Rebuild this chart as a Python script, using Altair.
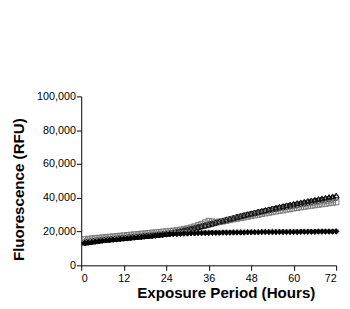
import altair as alt
import pandas as pd

hours = list(range(1, 73))

series_names = ["10μM", "1μM", "0.1μM", "0.01μM", "Vehicle"]

v_10uM = [13.6,13.9,14.2,14.5,14.7,15.0,15.2,15.4,15.6,15.8,16.0,16.2,
          16.4,16.6,16.8,17.0,17.2,17.4,17.6,17.8,18.0,18.2,18.4,18.7,
          19.0,19.3,19.7,20.1,20.5,21.0,21.5,22.0,22.5,23.0,23.5,24.0,
          24.6,25.1,25.7,26.2,26.8,27.3,27.8,28.4,28.9,29.4,29.9,30.4,
          30.8,31.3,31.7,32.2,32.6,33.1,33.5,34.0,34.4,34.8,35.2,35.6,
          36.0,36.4,36.8,37.2,37.6,38.0,38.3,38.7,39.0,39.4,39.7,40.1]

v_1uM = [15.3,15.6,15.8,16.0,16.2,16.4,16.6,16.8,17.0,17.2,17.4,17.6,
         17.8,18.0,18.2,18.4,18.6,18.8,19.0,19.2,19.4,19.6,19.8,20.0,
         20.2,20.4,20.7,21.0,21.4,21.8,22.3,22.9,23.6,24.4,25.3,26.2,
         25.8,25.6,25.8,26.1,26.5,26.9,27.3,27.7,28.1,28.5,28.9,29.3,
         29.7,30.1,30.5,30.9,31.3,31.6,32.0,32.4,32.7,33.1,33.4,33.8,
         34.1,34.5,34.8,35.1,35.4,35.7,36.0,36.3,36.6,36.9,37.2,37.5]

v_01uM = [13.4,13.7,14.0,14.3,14.6,14.9,15.1,15.3,15.5,15.7,15.9,16.1,
          16.3,16.5,16.7,16.9,17.1,17.3,17.5,17.7,17.9,18.1,18.4,18.7,
          19.0,19.4,19.8,20.2,20.7,21.2,21.7,22.2,22.7,23.2,23.7,24.2,
          24.8,25.4,26.0,26.5,27.1,27.6,28.1,28.7,29.2,29.7,30.2,30.7,
          31.2,31.7,32.2,32.7,33.2,33.7,34.2,34.7,35.1,35.6,36.0,36.5,
          36.9,37.3,37.7,38.1,38.5,38.9,39.3,39.7,40.1,40.5,40.9,41.4]

v_001uM = [13.2,13.5,13.8,14.1,14.4,14.7,14.9,15.1,15.3,15.5,15.7,15.9,
           16.1,16.3,16.5,16.7,16.9,17.1,17.3,17.5,17.7,17.9,18.1,18.3,
           18.4,18.5,18.6,18.7,18.8,18.9,19.0,19.0,19.1,19.1,19.2,19.2,
           19.3,19.3,19.3,19.4,19.4,19.4,19.5,19.5,19.5,19.5,19.6,19.6,
           19.6,19.6,19.7,19.7,19.7,19.7,19.7,19.8,19.8,19.8,19.8,19.8,
           19.8,19.9,19.9,19.9,19.9,19.9,20.0,20.0,20.0,20.0,20.0,20.1]

v_vehicle = [15.6,15.8,16.0,16.2,16.4,16.6,16.8,17.0,17.2,17.4,17.6,17.8,
             18.0,18.2,18.4,18.5,18.6,18.7,18.8,18.9,19.0,19.1,19.2,19.3,
             19.3,19.4,19.4,19.4,19.5,19.5,19.5,19.5,19.6,19.6,19.6,19.6,
             19.6,19.6,19.7,19.7,19.7,19.7,19.7,19.7,19.8,19.8,19.8,19.8,
             19.8,19.8,19.8,19.9,19.9,19.9,19.9,19.9,19.9,19.9,20.0,20.0,
             20.0,20.0,20.0,20.0,20.0,20.1,20.1,20.1,20.1,20.1,20.2,20.2]

x_ticks = [0, 12, 24, 36, 48, 60, 72]
y_ticks = [0, 20000, 40000, 60000, 80000, 100000]

all_vals = [v_10uM, v_1uM, v_01uM, v_001uM, v_vehicle]
rows = []
for name, vals in zip(series_names, all_vals):
    for h, v in zip(hours, vals):
        rows.append({"hour": h, "value": v * 1000, "series": name})
df = pd.DataFrame(rows)

shapes = ["circle", "square", "triangle-up", "diamond", "M-0.8,-0.8L0.8,0.8M-0.8,0.8L0.8,-0.8"]
strokes = ["#000000", "#777777", "#111111", "#000000", "#888888"]

title_font = "Liberation Sans, Arial, sans-serif"
label_font = "Liberation Sans, Arial, sans-serif"

x_enc = alt.X("hour:Q", scale=alt.Scale(domain=[0, 72], nice=False),
              axis=alt.Axis(values=x_ticks, title="Exposure Period (Hours)",
                            grid=False, tickSize=5, labelPadding=3,
                            titlePadding=2, titleX=148))
y_enc = alt.Y("value:Q", scale=alt.Scale(domain=[0, 100000], nice=False),
              axis=alt.Axis(values=y_ticks, format=",.0f", title="Fluorescence (RFU)",
                            grid=False, tickSize=5, labelPadding=1,
                            titlePadding=10, titleY=95))

color_scale = alt.Scale(domain=series_names, range=strokes)
shape_scale = alt.Scale(domain=series_names, range=shapes)

lines = alt.Chart(df).mark_line(strokeWidth=1).encode(
    x=x_enc, y=y_enc,
    color=alt.Color("series:N", scale=color_scale, legend=None),
    detail="series:N",
)

points = alt.Chart(df).mark_point(size=32, strokeWidth=1, filled=False, opacity=1, fillOpacity=0).encode(
    x=x_enc, y=y_enc,
    shape=alt.Shape("series:N", scale=shape_scale, legend=None),
    color=alt.Color("series:N", scale=color_scale, legend=None),
)

# the 0.01 uM series uses solid diamonds
solid = alt.Chart(df).transform_filter(
    alt.datum.series == "0.01μM"
).mark_point(shape="diamond", filled=True, size=32, color="#000000", opacity=1).encode(
    x=x_enc, y=y_enc,
)

# legend layer: invisible points, legend only
legend_layer = alt.Chart(df).mark_point(size=40, strokeWidth=1, filled=False, opacity=0).encode(
    x=x_enc, y=y_enc,
    shape=alt.Shape("series:N", scale=shape_scale,
                    legend=alt.Legend(title=None, orient="none", legendX=213, legendY=-27,
                                      labelFont=title_font, labelFontWeight="bold",
                                      labelFontSize=11, labelColor="#000000",
                                      symbolSize=40, symbolStrokeWidth=1,
                                      symbolStrokeColor="#000000",
                                      symbolOpacity=1, rowPadding=4, labelOffset=4)),
)

chart = alt.layer(lines, points, solid, legend_layer).properties(
    width=261, height=173,
    autosize=alt.AutoSizeParams(type="none"),
    padding={"left": 75, "top": 87, "right": 6, "bottom": 33},
).configure_view(stroke=None).configure_axis(
    domainColor="#000000", tickColor="#000000", labelColor="#000000",
    labelFont=label_font, labelFontSize=11, titleFont=title_font,
    titleFontWeight="bold", titleFontSize=15.5, titleColor="#000000",
)

chart.save("out.html", embed_options={"renderer": "svg", "actions": False})
